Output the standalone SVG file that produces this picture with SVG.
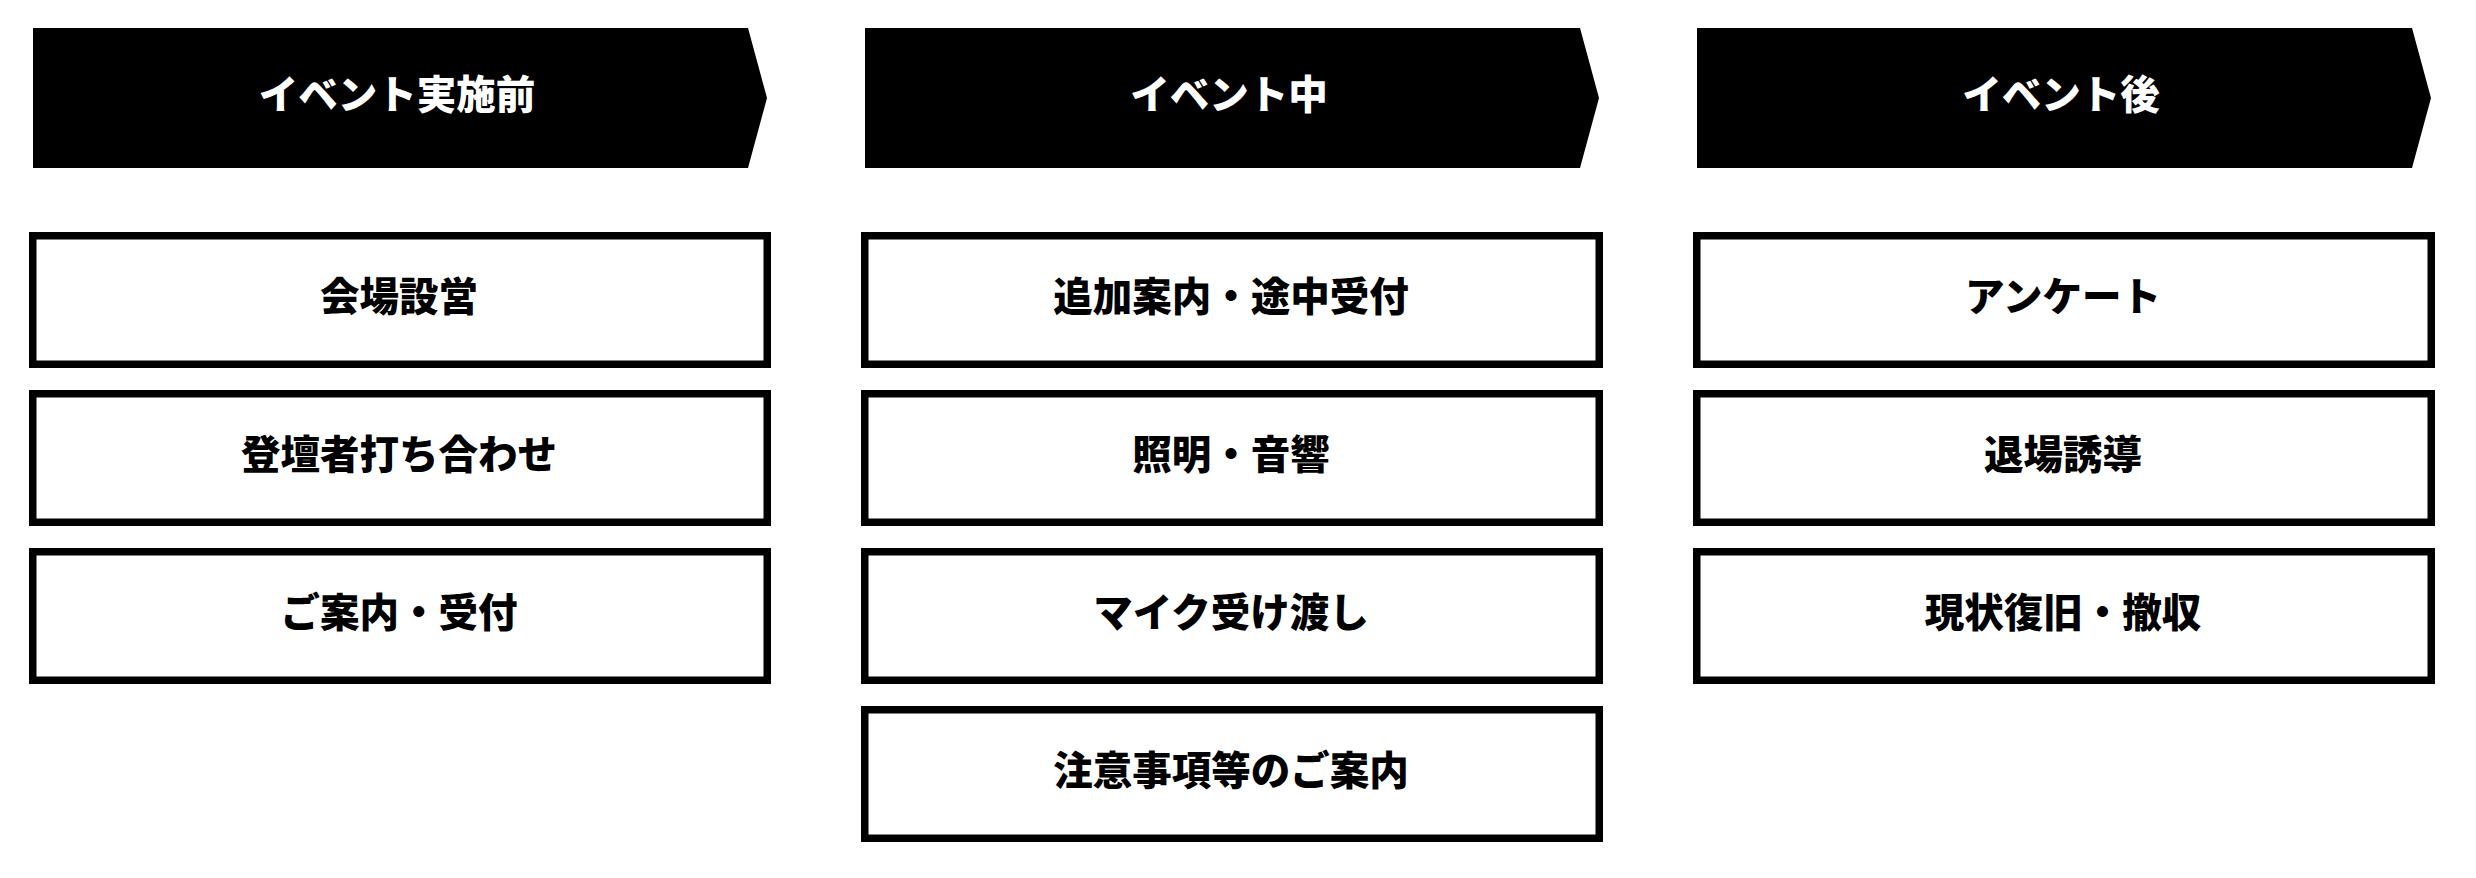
<svg xmlns="http://www.w3.org/2000/svg" width="2476" height="878" viewBox="0 0 2476 878">
<style>
.bg{fill:#fff}
.banner{fill:#000}
.btxt{fill:#fff;font-family:"Noto Sans CJK JP","Noto Sans",sans-serif;font-weight:900;font-size:39.5px;text-anchor:middle}
.box{fill:#fff;stroke:#000;stroke-width:7.5}
.txt{fill:#000;font-family:"Noto Sans CJK JP","Noto Sans",sans-serif;font-weight:900;font-size:39.5px;text-anchor:middle}
</style>
<rect class="bg" x="0" y="0" width="2476" height="878"/>
<g id="phase-before">
<polygon class="banner" points="33,28 748,28 767,98 748,168 33,168"/>
<text class="btxt" x="397" y="109">イベント実施前</text>
</g>
<g id="phase-during">
<polygon class="banner" points="865,28 1580,28 1599,98 1580,168 865,168"/>
<text class="btxt" x="1229" y="109">イベント中</text>
</g>
<g id="phase-after">
<polygon class="banner" points="1697,28 2412,28 2431,98 2412,168 1697,168"/>
<text class="btxt" x="2061" y="109">イベント後</text>
</g>
<g id="b1-1"><rect class="box" x="32.75" y="235.75" width="734.5" height="128.5"/><text class="txt" x="399" y="311">会場設営</text></g>
<g id="b1-2"><rect class="box" x="32.75" y="393.75" width="734.5" height="128.5"/><text class="txt" x="399" y="469">登壇者打ち合わせ</text></g>
<g id="b1-3"><rect class="box" x="32.75" y="551.75" width="734.5" height="128.5"/><text class="txt" x="399" y="627">ご案内・受付</text></g>
<g id="b2-1"><rect class="box" x="864.75" y="235.75" width="734.5" height="128.5"/><text class="txt" x="1231" y="311">追加案内・途中受付</text></g>
<g id="b2-2"><rect class="box" x="864.75" y="393.75" width="734.5" height="128.5"/><text class="txt" x="1231" y="469">照明・音響</text></g>
<g id="b2-3"><rect class="box" x="864.75" y="551.75" width="734.5" height="128.5"/><text class="txt" x="1231" y="627">マイク受け渡し</text></g>
<g id="b2-4"><rect class="box" x="864.75" y="709.75" width="734.5" height="128.5"/><text class="txt" x="1231" y="785">注意事項等のご案内</text></g>
<g id="b3-1"><rect class="box" x="1696.75" y="235.75" width="734.5" height="128.5"/><text class="txt" x="2063" y="311">アンケート</text></g>
<g id="b3-2"><rect class="box" x="1696.75" y="393.75" width="734.5" height="128.5"/><text class="txt" x="2063" y="469">退場誘導</text></g>
<g id="b3-3"><rect class="box" x="1696.75" y="551.75" width="734.5" height="128.5"/><text class="txt" x="2063" y="627">現状復旧・撤収</text></g>
<g id="connectors"></g>
</svg>
